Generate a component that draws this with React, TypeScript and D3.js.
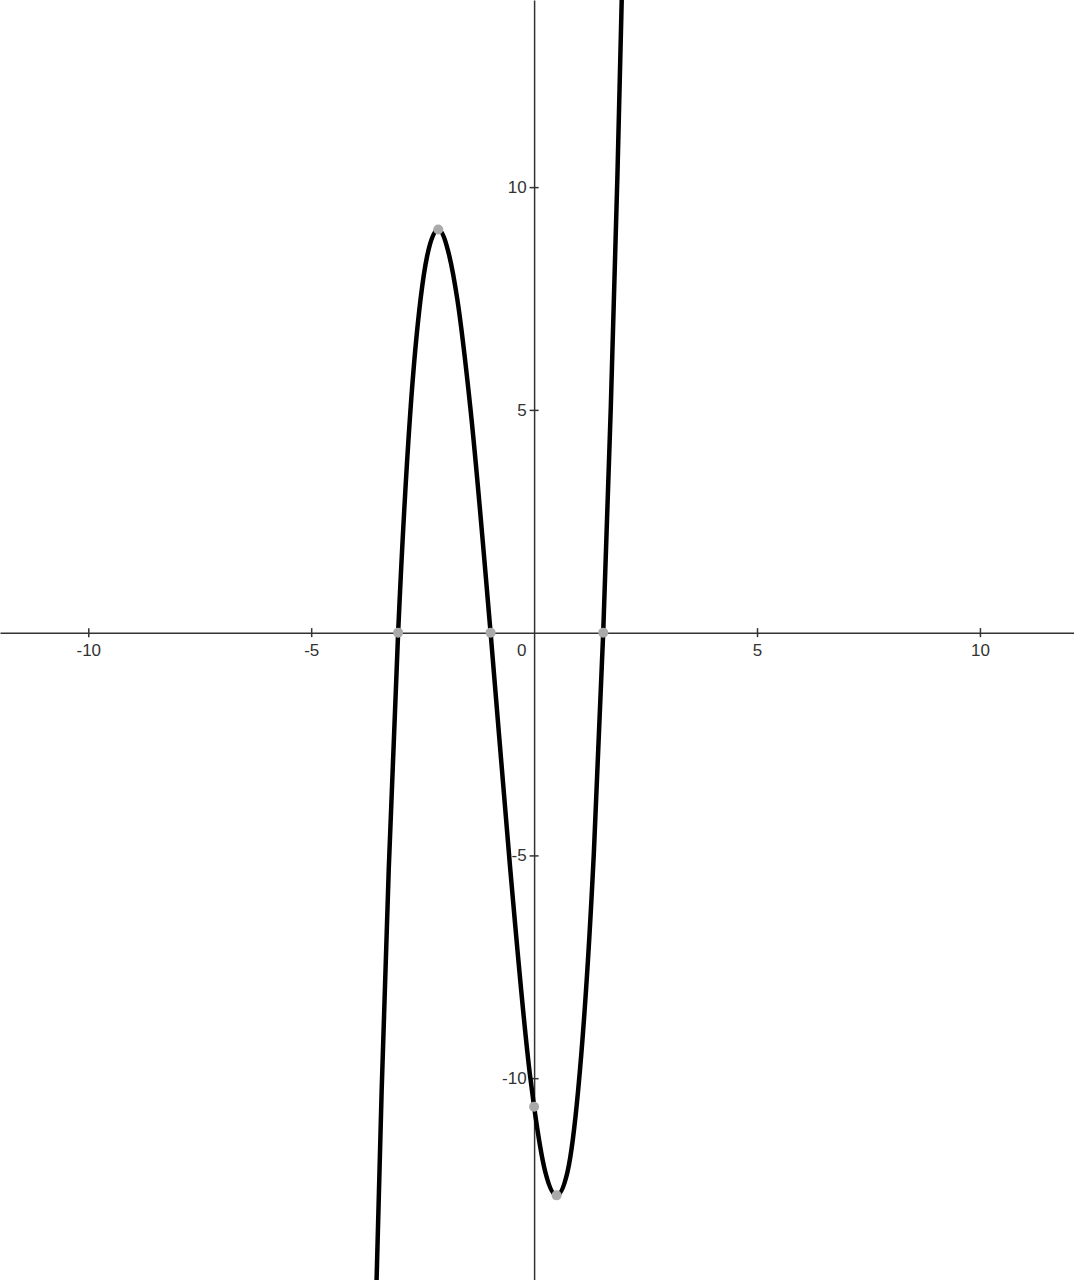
import React, { useRef, useEffect } from 'react';
import { select, scaleLinear, axisBottom, axisLeft, line, curveMonotoneX } from 'd3';

// points (x, y)
const curveX = [-3.535, -3.42, -3.26, -3.05, -2.78, -2.545, -2.4, -2.15, -1.9, -1.725, -1.43, -0.976, -0.54, -0.09, 0, 0.25, 0.505, 0.75, 0.99, 1.34, 1.55, 1.72, 1.87, 1.975];
const curveY = [-14.6, -10.3, -5.3, 0, 4.9, 7.5, 8.45, 9.05, 8.45, 7.5, 5.05, 0, -5.25, -9.95, -10.64, -12.1, -12.63, -12.1, -10.25, -4.95, 0, 5.05, 10.3, 14.6];

// marked points: roots, extrema, y-intercept
const markX = [-3.05, -0.976, 1.55, -2.15, 0.505, 0];
const markY = [0, 0, 0, 9.05, -12.63, -10.64];

const xTicks = [-10, -5, 5, 10];
const yTicks = [-10, -5, 5, 10];

const W = 1074;
const H = 1280;
const FONT = 'Liberation Sans, Arial, sans-serif';

const Graph = () => {
  const svgRef = useRef<SVGSVGElement>(null);

  useEffect(() => {
    const svg = select(svgRef.current);

    // scales
    const xScale = scaleLinear().domain([-11.98, 12.11]).range([0, W]);
    const yScale = scaleLinear().domain([-14.53, 14.2]).range([H, 0]);

    // axes
    const xAxis = axisBottom(xScale).tickValues(xTicks).tickSizeInner(4.5).tickSizeOuter(0).tickPadding(7).tickFormat((d) => String(d));
    const gx = svg.select('.x-axis').attr('transform', `translate(0,${yScale(0)})`).call(xAxis as any);
    gx.selectAll('.tick line').attr('y1', -4.5);

    const yAxis = axisLeft(yScale).tickValues(yTicks).tickSizeInner(4.5).tickSizeOuter(0).tickPadding(3).tickFormat((d) => String(d));
    const gy = svg.select('.y-axis').attr('transform', `translate(${xScale(0)},0)`).call(yAxis as any);
    gy.selectAll('.tick line').attr('x1', 4.5);

    [gx, gy].forEach((g) => {
      g.select('.domain').attr('stroke', '#333').attr('stroke-width', 1.5);
      g.selectAll('.tick line').attr('stroke', '#333').attr('stroke-width', 1.5);
      g.selectAll('.tick text').attr('fill', '#333').attr('font-size', 17).attr('font-family', FONT);
    });

    svg
      .select('.origin')
      .attr('x', xScale(0) - 17)
      .attr('y', yScale(0) + 23.5);

    // curve
    const pts = curveX.map((x, i) => [x, curveY[i]] as [number, number]);
    const myLine = line<[number, number]>()
      .x((d) => xScale(d[0]))
      .y((d) => yScale(d[1]))
      .curve(curveMonotoneX);

    svg
      .selectAll('.curve')
      .data([pts])
      .join('path')
      .attr('class', 'curve')
      .attr('d', myLine)
      .attr('fill', 'none')
      .attr('stroke', '#000')
      .attr('stroke-width', 4.5)
      .attr('stroke-linejoin', 'round');

    svg
      .selectAll('.mark')
      .data(markX.map((x, i) => [x, markY[i]]))
      .join('circle')
      .attr('class', 'mark')
      .attr('cx', (d) => xScale(d[0]))
      .attr('cy', (d) => yScale(d[1]))
      .attr('r', 5)
      .attr('fill', '#aaa');
  }, []);

  return (
    <svg ref={svgRef} width={W} height={H} style={{ position: 'absolute', left: 0, top: 0, background: '#fff' }}>
      <g className="x-axis" />
      <g className="y-axis" />
      <text className="origin" fill="#333" fontSize={17} fontFamily={FONT}>0</text>
    </svg>
  );
};

export default function App() {
  return <Graph />;
}
